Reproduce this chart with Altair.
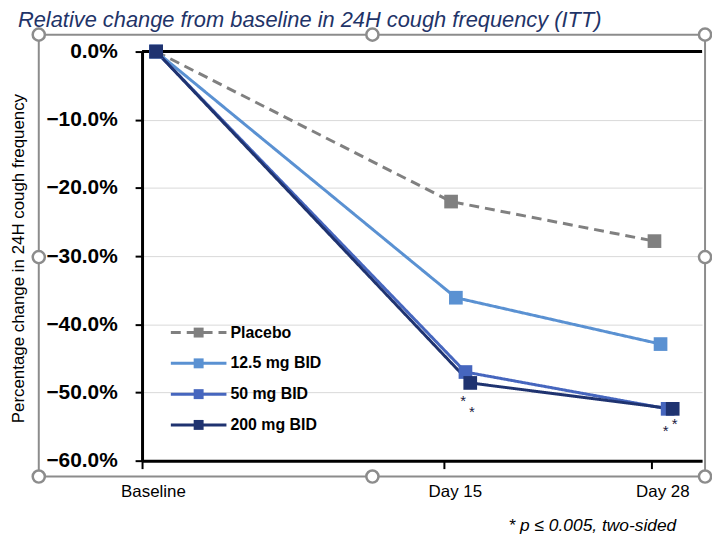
import altair as alt
import pandas as pd

# ---- data ----
series = ["Placebo", "12.5 mg BID", "50 mg BID", "200 mg BID"]
colors = ["#808080", "#5A91D2", "#4666BE", "#1F3370"]
dashes = [[10, 6], [1, 0], [1, 0], [1, 0]]

# x = study day position as read (Baseline, Day 15, Day 28 visits)
placebo_x = [0.7, 15.45, 28.15]
placebo_y = [0.0, -22.0, -27.8]
d125_x = [0.7, 15.75, 28.45]
d125_y = [0.0, -36.1, -42.9]
d50_x = [0.7, 16.35, 28.8]
d50_y = [0.0, -47.0, -52.4]
d200_x = [0.7, 16.65, 29.05]
d200_y = [0.0, -48.6, -52.4]

tick_values = [0, 15, 28]
tick_labels = ["Baseline", "Day 15", "Day 28"]

star_x = [16.2, 16.75, 28.7, 29.15]
star_y = [-51.3, -52.8, -55.6, -54.6]

rows = []
for name, xs, ys in [("Placebo", placebo_x, placebo_y),
                     ("12.5 mg BID", d125_x, d125_y),
                     ("50 mg BID", d50_x, d50_y),
                     ("200 mg BID", d200_x, d200_y)]:
    for i, (x, y) in enumerate(zip(xs, ys)):
        rows.append({"series": name, "day": x, "pct": y, "order": i})
df = pd.DataFrame(rows)
stars = pd.DataFrame({"day": star_x, "pct": star_y, "t": ["*"] * 4})
legend_df = pd.DataFrame({"series": series})

W, H = 564, 412
FONT = "Liberation Sans"

xscale = alt.Scale(domain=[0, 15, 28, 30.5], range=[0, 304, 513, W], nice=False, zero=False)
yscale = alt.Scale(domain=[-60, 0], nice=False)
cscale = alt.Scale(domain=series, range=colors)
dscale = alt.Scale(domain=series, range=dashes)

label_map = "{" + ",".join(f"'{v}':'{l}'" for v, l in zip(tick_values, tick_labels)) + "}"

xenc = alt.X("day:Q", scale=xscale, axis=alt.Axis(
    values=tick_values, labelExpr=f"{label_map}[datum.value]", title=None,
    domainColor="black", domainWidth=3, tickColor="black", tickWidth=2, tickSize=8,
    labelFont=FONT, labelFontSize=17, labelColor="black", labelPadding=15, labelOffset=11,
    grid=False, labelFlush=False))
yenc = alt.Y("pct:Q", scale=yscale, axis=alt.Axis(
    values=[0, -10, -20, -30, -40, -50, -60],
    labelExpr="format(datum.value, '.1f') + '%'",
    title="Percentage change in 24H cough frequency",
    titleFont=FONT, titleFontSize=17, titleFontWeight="normal", titleColor="black",
    titleX=-132, titleY=H / 2 + 2, titleAngle=-90, titleAlign="center", titleBaseline="top",
    domainColor="black", domainWidth=3, tickColor="black", tickWidth=2, tickSize=7,
    labelFont=FONT, labelFontSize=21, labelFontWeight="bold", labelColor="black",
    labelPadding=18, grid=True, gridColor="#d9d9d9", gridWidth=1))

lines = alt.Chart(df).mark_line(strokeWidth=3).encode(
    x=xenc, y=yenc,
    color=alt.Color("series:N", scale=cscale, legend=None),
    strokeDash=alt.StrokeDash("series:N", scale=dscale, legend=None),
    order="order:Q",
    detail="series:N",
)
pts = alt.Chart(df).mark_point(shape="square", filled=True, opacity=1, size=190).encode(
    x="day:Q", y="pct:Q",
    color=alt.Color("series:N", scale=cscale, legend=None),
)
zero_line = alt.Chart(pd.DataFrame({"v": [0]})).mark_rule(color="black", strokeWidth=3).encode(
    y="v:Q", x=alt.value(0), x2=alt.value(W))

star_layer = alt.Chart(stars).mark_text(font=FONT, fontSize=15, color="#1a1a40",
                                        baseline="middle", align="center").encode(
    x="day:Q", y="pct:Q", text="t:N")

# manual legend inside plot
ly = alt.Y("series:N", scale=alt.Scale(type="point", domain=series, range=[283, 376], padding=0), axis=None)
leg_line = alt.Chart(legend_df).mark_rule(strokeWidth=3).encode(
    y=ly, x=alt.value(29), x2=alt.value(85),
    color=alt.Color("series:N", scale=cscale, legend=None),
    strokeDash=alt.StrokeDash("series:N", scale=dscale, legend=None))
leg_pt = alt.Chart(legend_df).mark_point(shape="square", filled=True, opacity=1, size=100).encode(
    y=ly, x=alt.value(57), color=alt.Color("series:N", scale=cscale, legend=None))
leg_txt = alt.Chart(legend_df).mark_text(font=FONT, fontSize=16, fontWeight="bold", align="left",
                                         baseline="middle", color="black").encode(
    y=ly, x=alt.value(89), text="series:N")
legend = alt.layer(leg_line, leg_pt, leg_txt)

footnote = alt.Chart(pd.DataFrame({"t": ["* p \u2264 0.005, two-sided"]})).mark_text(
    font=FONT, fontSize=17.5, fontStyle="italic", align="right", baseline="middle", color="black").encode(
    x=alt.value(538), y=alt.value(478), text="t:N")

# selection-frame decoration (grey box with handles)
one = pd.DataFrame({"a": [1]})
L, R, T, B, MX, MY = -104, 567, -17, 428, 232, 207
frame_col = "#8c8c8c"
frame = [
    alt.Chart(one).mark_rule(color=frame_col, strokeWidth=2).encode(x=alt.value(L), x2=alt.value(R), y=alt.value(T)),
    alt.Chart(one).mark_rule(color=frame_col, strokeWidth=2).encode(x=alt.value(L), x2=alt.value(R), y=alt.value(B)),
    alt.Chart(one).mark_rule(color=frame_col, strokeWidth=2).encode(x=alt.value(L), y=alt.value(T), y2=alt.value(B)),
    alt.Chart(one).mark_rule(color=frame_col, strokeWidth=2).encode(x=alt.value(R), y=alt.value(T), y2=alt.value(B)),
]
for hx, hy in [(L, T), (MX, T), (R, T), (L, MY), (R, MY), (L, B), (MX, B), (R, B)]:
    frame.append(alt.Chart(one).mark_point(shape="circle", filled=True, fill="white", stroke=frame_col,
                                           strokeWidth=2.5, size=150, opacity=1).encode(
        x=alt.value(hx), y=alt.value(hy)))

main = alt.layer(lines, zero_line, pts, star_layer)
chart = alt.layer(*frame, main, legend, footnote).resolve_scale(y="independent").properties(
    width=W, height=H,
    title=alt.TitleParams("Relative change from baseline in 24H cough frequency (ITT)",
                          font=FONT, fontSize=22, fontStyle="italic", fontWeight="normal",
                          color="#1F3468", anchor="start", frame="group", dx=-125, dy=8,
                          baseline="top", offset=0),
    autosize=alt.AutoSizeParams(type="none"),
    padding={"left": 135, "top": 42, "right": 10, "bottom": 75},
).configure_view(stroke=None).configure_axis(labelOverlap=False)

chart.save("out.html", embed_options={"renderer": "svg", "actions": False})
